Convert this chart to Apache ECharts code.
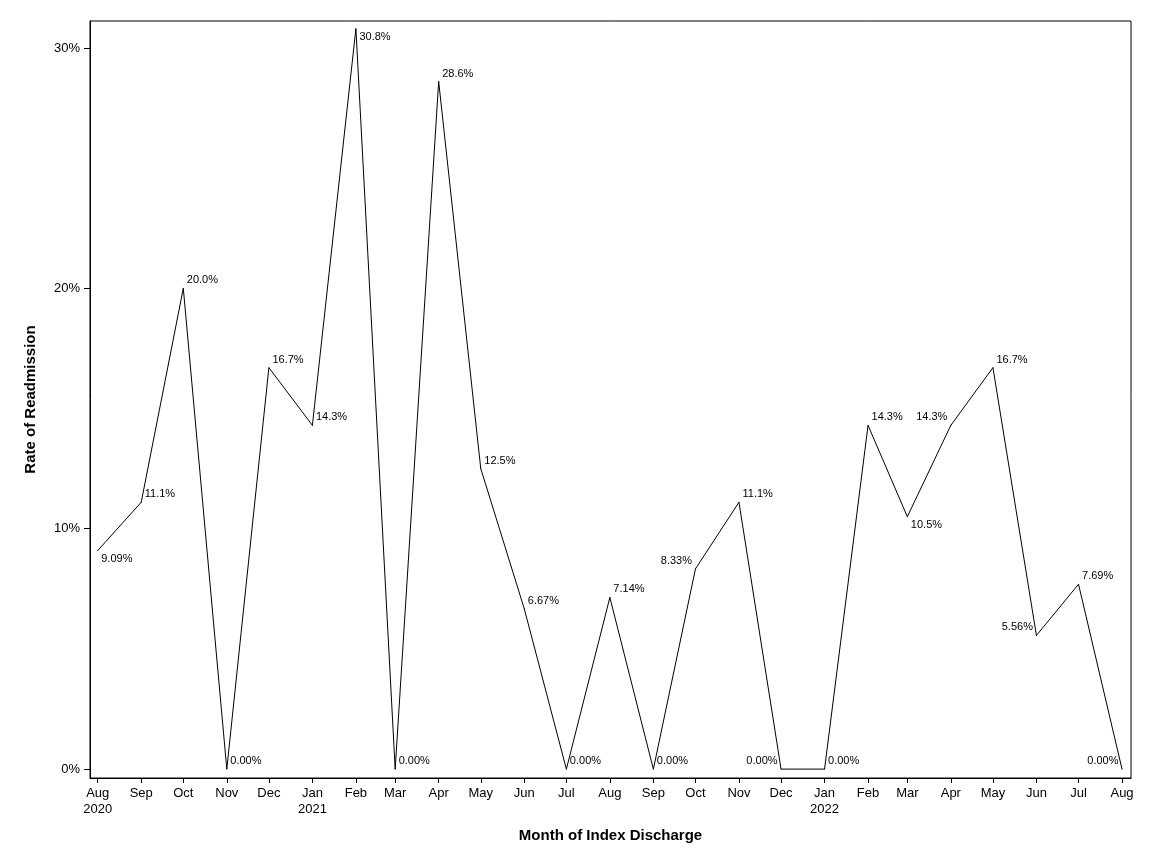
<!DOCTYPE html>
<html>
<head>
<meta charset="utf-8">
<title>Rate of Readmission</title>
<script src="https://cdn.jsdelivr.net/npm/echarts@6/dist/echarts.min.js"></script>
<style>
  html, body { margin: 0; padding: 0; background: #fff; }
  #main { width: 1152px; height: 864px; }
</style>
</head>
<body>
<div id="main"></div>
<script>
// months of index discharge
var months = [
  '2020-08', '2020-09', '2020-10', '2020-11', '2020-12',
  '2021-01', '2021-02', '2021-03', '2021-04', '2021-05', '2021-06', '2021-07',
  '2021-08', '2021-09', '2021-10', '2021-11', '2021-12',
  '2022-01', '2022-02', '2022-03', '2022-04', '2022-05', '2022-06', '2022-07', '2022-08'
];

// rate of readmission, percent
var rates = [
  9.09, 11.1, 20.0, 0, 16.7,
  14.3, 30.8, 0, 28.6, 12.5, 6.67, 0,
  7.14, 0, 8.33, 11.1, 0,
  0, 14.3, 10.5, 14.3, 16.7, 5.56, 7.69, 0
];

// y tick labels
var yTicks = [0, 10, 20, 30];

// where each point label sits: rt = right/top, rb = right/bottom, lt = left/top
var labelSide = [
  'rb', 'rt', 'rt', 'rt', 'rt',
  'rt', 'rb', 'rt', 'rt', 'rt', 'rt', 'rt',
  'rt', 'rt', 'lt', 'rt', 'lt',
  'rt', 'rt', 'rb', 'lt', 'rt', 'lt', 'rt', 'lt'
];

var monthNames = ['Jan', 'Feb', 'Mar', 'Apr', 'May', 'Jun',
                  'Jul', 'Aug', 'Sep', 'Oct', 'Nov', 'Dec'];

var DAY = 86400000;

function toTime(m) {
  var p = m.split('-');
  return Date.UTC(+p[0], +p[1] - 1, 1);
}

// x is measured in days from the first month, so months keep their real length
var t0 = toTime(months[0]);
var dayOffsets = months.map(function (m) {
  return Math.round((toTime(m) - t0) / DAY);
});

function monthLabel(day) {
  var i = dayOffsets.indexOf(Math.round(day));
  if (i < 0) return '';
  var p = months[i].split('-');
  var mi = +p[1] - 1;
  var s = monthNames[mi];
  if (mi === 0 || i === 0) s += '\n' + p[0];
  return s;
}

var seriesData = months.map(function (m, i) {
  return {
    value: [dayOffsets[i], rates[i]],
    label: { position: labelSide[i] === 'lt' ? 'left' : 'right', distance: 3 }
  };
});

var chart = echarts.init(document.getElementById('main'));

var option = {
  animation: false,
  backgroundColor: '#fff',
  textStyle: { fontFamily: 'Liberation Sans', color: '#000' },
  grid: {
    left: 90, right: 21, top: 21, bottom: 86,
    show: true, borderColor: '#000', borderWidth: 1,
    containLabel: false
  },
  xAxis: {
    type: 'value',
    min: -5.5,
    max: dayOffsets[dayOffsets.length - 1] + 6.4,
    name: 'Month of Index Discharge',
    nameLocation: 'middle',
    nameGap: 50,
    nameTextStyle: { fontSize: 15, fontWeight: 'bold', color: '#000', fontFamily: 'Liberation Sans' },
    axisLine: { show: true, onZero: false, lineStyle: { color: '#000', width: 1 } },
    axisTick: { show: true, inside: false, length: 5, lineStyle: { color: '#000' }, customValues: dayOffsets },
    splitLine: { show: false },
    axisLabel: {
      customValues: dayOffsets,
      color: '#000',
      fontSize: 13,
      lineHeight: 16,
      margin: 7,
      formatter: monthLabel
    }
  },
  yAxis: {
    type: 'value',
    min: -0.37,
    max: 31.12,
    name: 'Rate of Readmission',
    nameLocation: 'middle',
    nameGap: 52,
    nameRotate: 90,
    nameTextStyle: { fontSize: 15, fontWeight: 'bold', color: '#000', fontFamily: 'Liberation Sans' },
    axisLine: { show: true, onZero: false, lineStyle: { color: '#000', width: 1 } },
    axisTick: { show: true, inside: false, length: 6, lineStyle: { color: '#000' }, customValues: yTicks },
    splitLine: { show: false },
    axisLabel: {
      customValues: yTicks,
      color: '#000',
      fontSize: 13,
      margin: 10,
      formatter: function (v) { return v + '%'; }
    }
  },
  series: [{
    type: 'line',
    data: seriesData,
    symbol: 'circle',
    symbolSize: 1,
    showSymbol: true,
    itemStyle: { color: '#000' },
    lineStyle: { color: '#000', width: 1 },
    label: {
      show: true,
      fontSize: 11,
      color: '#000',
      fontFamily: 'Liberation Sans',
      formatter: function (p) {
        return p.value[1].toPrecision(3) + '%';
      }
    },
    labelLayout: function (params) {
      return { dy: labelSide[params.dataIndex] === 'rb' ? 8 : -8, hideOverlap: false };
    }
  }]
};

chart.setOption(option);
</script>
</body>
</html>
